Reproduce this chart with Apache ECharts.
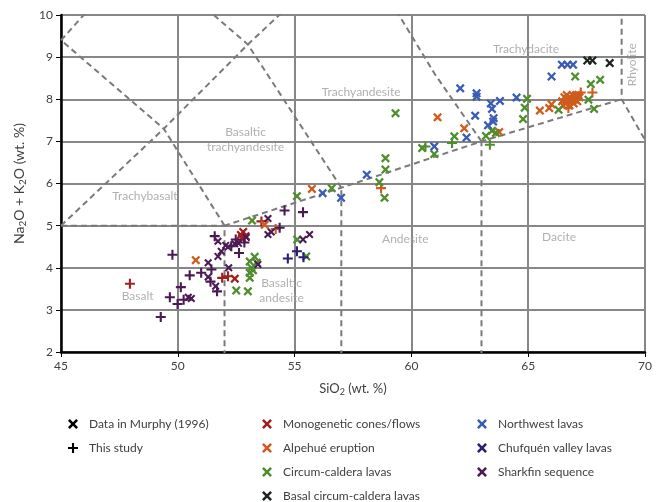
<!DOCTYPE html>
<html>
<head>
<meta charset="utf-8">
<script src="https://cdn.jsdelivr.net/npm/echarts@6/dist/echarts.min.js"></script>
<style>
html,body{margin:0;padding:0;background:#fff;}
#chart{width:666px;height:502px;}
</style>
</head>
<body>
<div id="chart"></div>
<script>
// ---- Data (SiO2 wt.%, Na2O+K2O wt.%) ----
const monoX = [[52.44,3.74],[52.7,4.78],[52.8,4.85],[52.9,4.75],[52.75,4.7]];
const monoP = [[47.95,3.62],[51.9,3.76],[52.15,3.8],[53.58,5.1],[52.8,4.78]];
const alpX = [[50.77,4.18],[53.72,5.02],[55.74,5.87],[61.12,7.57],[62.26,7.31],[63.76,7.22],[65.5,7.73],[65.9,7.79],[66.0,7.88],
  [66.45,7.95],[66.55,8.05],[66.6,7.9],[66.7,8.0],[66.75,7.85],[66.8,8.05],[66.85,7.95],[66.9,8.1],[66.95,7.9],[67.0,8.0],
  [67.05,8.1],[67.1,7.95],[67.2,8.05],[66.65,8.1],[66.5,7.85],[66.75,7.95],[66.95,8.0],[67.15,8.1]];
const alpP = [[54.19,4.92],[58.7,5.89],[67.25,8.16],[67.75,8.16],[66.72,7.79],[66.6,8.0],[66.9,8.05]];
const circX = [[53.18,5.12],[55.1,5.7],[56.59,5.89],[58.89,6.6],[58.89,6.33],[58.63,6.03],[58.85,5.66],[59.32,7.67],[61.84,7.12],
  [63.19,7.13],[63.45,7.25],[63.62,7.2],[60.46,6.84],[60.98,6.7],[64.95,8.01],[64.85,7.8],[64.78,7.53],[67.01,8.54],[67.68,8.36],
  [68.08,8.46],[67.58,7.99],[67.82,7.77],[66.3,7.75],[55.11,4.67],[55.5,4.27],[52.5,3.46],[53.0,3.44],[53.08,4.15],[53.29,4.26],
  [53.15,4.0],[53.08,3.88],[53.08,3.76],[53.38,4.12],[53.22,3.94]];
const circP = [[61.74,6.96],[63.36,6.92],[60.6,6.88]];
const basalX = [[67.53,8.92],[67.75,8.92],[68.49,8.86]];
const nwX = [[56.2,5.77],[56.99,5.66],[58.09,6.21],[60.98,6.88],[62.09,8.26],[62.79,8.14],[62.79,8.06],[63.4,7.9],[63.79,7.96],
  [63.45,7.77],[64.5,8.04],[62.73,7.61],[63.52,7.55],[63.5,7.47],[63.28,7.38],[62.36,7.09],[66.0,8.54],[66.44,8.82],[66.68,8.82],[66.92,8.82]];
const chufP = [[54.71,4.22],[55.1,4.39],[55.38,4.25]];
const sharkP = [[49.77,4.31],[49.27,2.83],[50.51,3.82],[50.13,3.54],[49.66,3.3],[49.99,3.14],[50.25,3.24],[51.58,4.75],[51.0,3.88],
  [51.44,3.96],[51.4,3.67],[51.68,3.44],[54.57,5.36],[55.36,5.32],[54.36,4.95],[52.48,4.67],[52.85,4.6],[52.62,4.35],[52.29,4.51]];
const sharkX = [[50.45,3.3],[50.58,3.27],[51.72,4.63],[52.05,4.53],[51.72,4.27],[51.3,4.12],[51.3,3.78],[51.62,3.56],[52.18,4.0],
  [53.86,5.17],[53.86,4.79],[54.0,4.85],[52.44,4.57],[52.93,4.72],[52.15,4.49],[51.86,4.39],[53.43,4.08],[55.36,4.67],[55.64,4.79],[52.6,4.58]];

// TAS classification boundaries (Le Bas et al., 1986)
const tasLines = [
  [[45,5],[52,5]],
  [[52,0],[52,5],[57,5.9],[63,7],[69,8]],
  [[57,0],[57,5.9]],
  [[63,0],[63,7]],
  [[69,13],[69,8],[77.3,0]],
  [[45,5],[49.4,7.3],[53,9.3],[57.6,11.7]],
  [[52,5],[49.4,7.3],[45,9.4],[48.4,11.5]],
  [[57,5.9],[53,9.3],[48.4,11.5]],
  [[63,7],[61,8.6],[57.6,11.7]]
];
const fieldNames = ['Trachydacite','Rhyolite','Trachyandesite','Basaltic\ntrachyandesite','Trachybasalt','Basalt','Basaltic\nandesite','Andesite','Dacite'];
const fieldAt = [[64.91,9.19],[69.44,8.82],[57.85,8.18],[52.9,7.04],[48.59,5.69],[48.28,3.32],[54.44,3.46],[59.74,4.69],[66.32,4.72]];

const xTicks = [45,50,55,60,65,70];
const yTicks = [2,3,4,5,6,7,8,9,10];

// ---- Styling ----
const FONT = 'Lato';
const XPATH = 'path://M0,1.8L1.8,0L5,3.2L8.2,0L10,1.8L6.8,5L10,8.2L8.2,10L5,6.8L1.8,10L0,8.2L3.2,5Z';
const PPATH = 'path://M3.95,0H6.05V3.95H10V6.05H6.05V10H3.95V6.05H0V3.95H3.95Z';
const C = {
  mono:'#a31f1f', alp:'#cf5c1c', circ:'#4f8e2d', basal:'#1c261c',
  nw:'#3a5cb5', chuf:'#2a1f78', shark:'#4b1a55', black:'#000000'
};

function pts(name, data, color, cross, size){
  return {
    type:'scatter', name:name, data:data,
    symbol: cross ? XPATH : PPATH,
    symbolSize: size || (cross ? 9 : 10),
    itemStyle:{color:color, opacity:1},
    z:5, emphasis:{disabled:true}
  };
}

const series = [];
tasLines.forEach(function(l){
  series.push({type:'line', data:l, showSymbol:false, symbol:'none', silent:true, z:2,
    lineStyle:{color:'#7a7a7a', width:2, type:[6,4]}, animation:false});
});
series.push({
  type:'scatter', silent:true, z:3, symbol:'circle', symbolSize:1,
  itemStyle:{color:'rgba(0,0,0,0)'},
  data: fieldAt.map(function(p,i){ return {value:p, name:fieldNames[i],
    label:{rotate: fieldNames[i]==='Rhyolite' ? 90 : 0}}; }),
  label:{show:true, position:'inside', formatter:function(p){return p.name;},
    color:'#9c9c9c', fontSize:12, fontFamily:FONT, lineHeight:15, align:'center', verticalAlign:'middle'}
});
series.push(pts('Data in Murphy (1996)', [], C.black, true));
series.push(pts('This study', [], C.black, false));
series.push(pts('Monogenetic cones/flows', monoX, C.mono, true));
series.push(pts('Monogenetic cones/flows +', monoP, C.mono, false));
series.push(pts('Alpehué eruption', alpX, C.alp, true));
series.push(pts('Alpehué eruption +', alpP, C.alp, false));
series.push(pts('Circum-caldera lavas', circX, C.circ, true));
series.push(pts('Circum-caldera lavas +', circP, C.circ, false));
series.push(pts('Basal circum-caldera lavas', basalX, C.basal, true));
series.push(pts('Northwest lavas', nwX, C.nw, true));
series.push(pts('Chufquén valley lavas', [], C.chuf, true));
series.push(pts('Chufquén valley lavas +', chufP, C.chuf, false));
series.push(pts('Sharkfin sequence', sharkX, C.shark, true, 8));
series.push(pts('Sharkfin sequence +', sharkP, C.shark, false));

const legendBase = {
  orient:'vertical', itemWidth:22, itemHeight:10, itemGap:12, selectedMode:false,
  textStyle:{color:'#404040', fontSize:12, fontFamily:FONT, padding:[0,0,0,0]},
  top:413, height:90
};

const option = {
  animation:false,
  backgroundColor:'#ffffff',
  textStyle:{fontFamily:FONT},
  grid:{left:61, right:21, top:15, bottom:150, containLabel:false},
  xAxis:{
    type:'value', min:xTicks[0], max:xTicks[xTicks.length-1], interval:5,
    name:'SiO{s|2} (wt. %)', nameLocation:'middle', nameGap:29,
    nameTextStyle:{color:'#404040', fontSize:13, fontFamily:FONT,
      rich:{s:{fontSize:9, padding:[7,0,0,0], color:'#404040', fontFamily:FONT}}},
    axisLine:{show:true, onZero:false, lineStyle:{color:'#000', width:2.5}},
    axisTick:{show:true, length:5, lineStyle:{color:'#000', width:1}},
    axisLabel:{color:'#404040', fontSize:12, fontFamily:FONT, margin:8},
    splitLine:{show:true, lineStyle:{color:'#878787', width:2}}
  },
  yAxis:{
    type:'value', min:yTicks[0], max:yTicks[yTicks.length-1], interval:1,
    name:'Na{s|2}O + K{s|2}O (wt. %)', nameLocation:'middle', nameGap:33, nameRotate:90,
    nameTextStyle:{color:'#404040', fontSize:14, fontFamily:FONT,
      rich:{s:{fontSize:10, padding:[7,0,0,0], color:'#404040', fontFamily:FONT}}},
    axisLine:{show:true, onZero:false, lineStyle:{color:'#000', width:2.5}},
    axisTick:{show:true, length:5, lineStyle:{color:'#000', width:1}},
    axisLabel:{color:'#404040', fontSize:12, fontFamily:FONT, margin:8},
    splitLine:{show:true, lineStyle:{color:'#878787', width:2}}
  },
  legend:[
    Object.assign({}, legendBase, {left:63, data:['Data in Murphy (1996)','This study']}),
    Object.assign({}, legendBase, {left:257, data:['Monogenetic cones/flows','Alpehué eruption','Circum-caldera lavas']}),
    Object.assign({}, legendBase, {left:257, top:485, data:['Basal circum-caldera lavas']}),
    Object.assign({}, legendBase, {left:472, data:['Northwest lavas','Chufquén valley lavas','Sharkfin sequence']})
  ],
  series:series
};

const chart = echarts.init(document.getElementById('chart'), null, {renderer:'canvas'});
chart.setOption(option);
</script>
</body>
</html>
